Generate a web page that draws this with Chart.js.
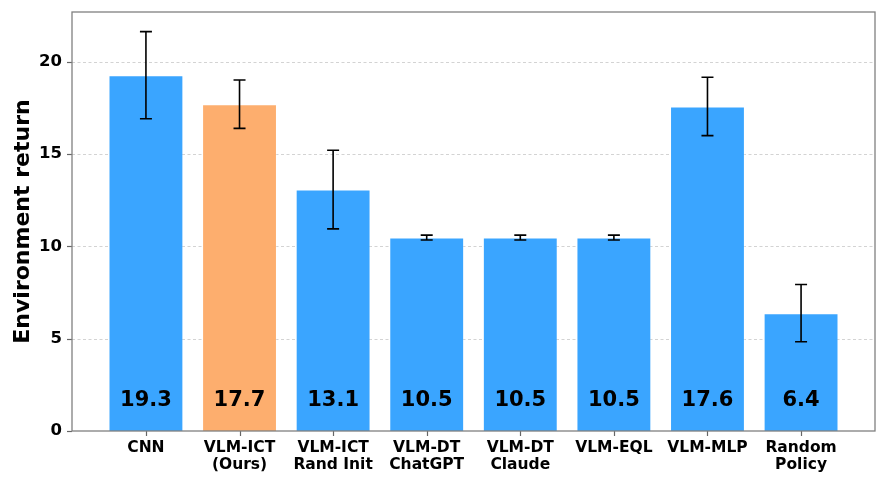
<!DOCTYPE html>
<html>
<head>
<meta charset="utf-8">
<script src="https://cdn.jsdelivr.net/npm/chart.js@4.4.1/dist/chart.umd.min.js"></script>
<style>
html,body{margin:0;padding:0;background:#fff;}
#wrap{width:887px;height:484px;}
</style>
</head>
<body>
<div id="wrap"><canvas id="c" width="887" height="484"></canvas></div>
<script>
const categories = [["CNN"],["VLM-ICT","(Ours)"],["VLM-ICT","Rand Init"],["VLM-DT","ChatGPT"],["VLM-DT","Claude"],["VLM-EQL"],["VLM-MLP"],["Random","Policy"]];
const values = [19.26, 17.69, 13.07, 10.47, 10.47, 10.47, 17.57, 6.38];
const errors = [2.36, 1.31, 2.13, 0.13, 0.13, 0.13, 1.58, 1.55];
const barColors = ["#3AA5FF","#FDAE6E","#3AA5FF","#3AA5FF","#3AA5FF","#3AA5FF","#3AA5FF","#3AA5FF"];
const yTicks = [0, 5, 10, 15, 20];
const yTitle = "Environment return";

const FONT = "'DejaVu Sans', sans-serif";

const boxPlugin = {
  id: 'boxPlugin',
  beforeDatasetsDraw(chart) {
    const {ctx, chartArea: a, scales: {x, y}} = chart;
    ctx.save();
    ctx.strokeStyle = '#c8c8c8';
    ctx.lineWidth = 0.8;
    ctx.setLineDash([3, 2.5]);
    yTicks.forEach(v => {
      if (v === 0) return;
      const py = Math.round(y.getPixelForValue(v)) + 0.5;
      ctx.beginPath(); ctx.moveTo(a.left, py); ctx.lineTo(a.right, py); ctx.stroke();
    });
    ctx.setLineDash([]);
    ctx.strokeStyle = '#666';
    ctx.lineWidth = 1.2;
    yTicks.forEach(v => {
      const py = Math.round(y.getPixelForValue(v)) + 0.5;
      ctx.beginPath(); ctx.moveTo(a.left - 5, py); ctx.lineTo(a.left, py); ctx.stroke();
    });
    categories.forEach((c, i) => {
      const px = Math.round(x.getPixelForValue(i)) + 0.5;
      ctx.beginPath(); ctx.moveTo(px, a.bottom); ctx.lineTo(px, a.bottom + 5); ctx.stroke();
    });
    ctx.restore();
  },
  afterDatasetsDraw(chart) {
    const {ctx, chartArea: a, scales: {x, y}} = chart;
    ctx.save();
    ctx.strokeStyle = '#000';
    ctx.lineWidth = 1.6;
    values.forEach((v, i) => {
      const px = x.getPixelForValue(i);
      const top = y.getPixelForValue(v + errors[i]);
      const bot = y.getPixelForValue(v - errors[i]);
      ctx.beginPath();
      ctx.moveTo(px, top); ctx.lineTo(px, bot);
      ctx.moveTo(px - 6, top); ctx.lineTo(px + 6, top);
      ctx.moveTo(px - 6, bot); ctx.lineTo(px + 6, bot);
      ctx.stroke();
    });
    ctx.fillStyle = '#000';
    ctx.font = "bold 21px " + FONT;
    ctx.textAlign = 'center';
    ctx.textBaseline = 'middle';
    values.forEach((v, i) => {
      ctx.fillText(v.toFixed(1), x.getPixelForValue(i), y.getPixelForValue(1.65));
    });
    ctx.strokeStyle = '#808080';
    ctx.lineWidth = 1.3;
    ctx.strokeRect(a.left, a.top, a.right - a.left, a.bottom - a.top);
    ctx.font = "bold 22px " + FONT;
    ctx.translate(23, (a.top + a.bottom) / 2);
    ctx.rotate(-Math.PI / 2);
    ctx.fillText(yTitle, 0, 0);
    ctx.restore();
  }
};

new Chart(document.getElementById('c'), {
  type: 'bar',
  data: {
    datasets: [{
      data: values.map((v, i) => ({x: i, y: v})),
      backgroundColor: barColors,
      borderColor: 'rgba(255,255,255,0.25)',
      borderWidth: 1,
      borderSkipped: 'bottom',
      barPercentage: 0.8,
      categoryPercentage: 1.0
    }]
  },
  options: {
    responsive: false,
    animation: false,
    devicePixelRatio: 1,
    layout: {padding: {top: 12, right: 12, left: 0, bottom: 0}},
    plugins: {legend: {display: false}, tooltip: {enabled: false}},
    scales: {
      x: {
        type: 'linear',
        min: -0.79, max: 7.79,
        offset: false,
        afterBuildTicks: s => { s.ticks = categories.map((c, i) => ({value: i})); },
        afterFit: s => { s.height = 53; s.paddingLeft = 0; s.paddingRight = 0; },
        grid: {display: false},
        border: {display: false},
        ticks: {
          autoSkip: false, maxRotation: 0, padding: 0,
          color: '#000',
          font: {family: FONT, weight: 'bold', size: 15.5, lineHeight: 1.1},
          callback: (val) => categories[val] || ''
        }
      },
      y: {
        min: 0, max: 22.68,
        afterBuildTicks: s => { s.ticks = yTicks.map(v => ({value: v})); },
        afterFit: s => { s.width = 72; s.paddingTop = 0; s.paddingBottom = 0; },
        grid: {display: false},
        border: {display: false},
        ticks: {
          padding: 2, color: '#000',
          font: {family: FONT, weight: 'bold', size: 16.5}
        }
      }
    }
  },
  plugins: [boxPlugin]
});
</script>
</body>
</html>
